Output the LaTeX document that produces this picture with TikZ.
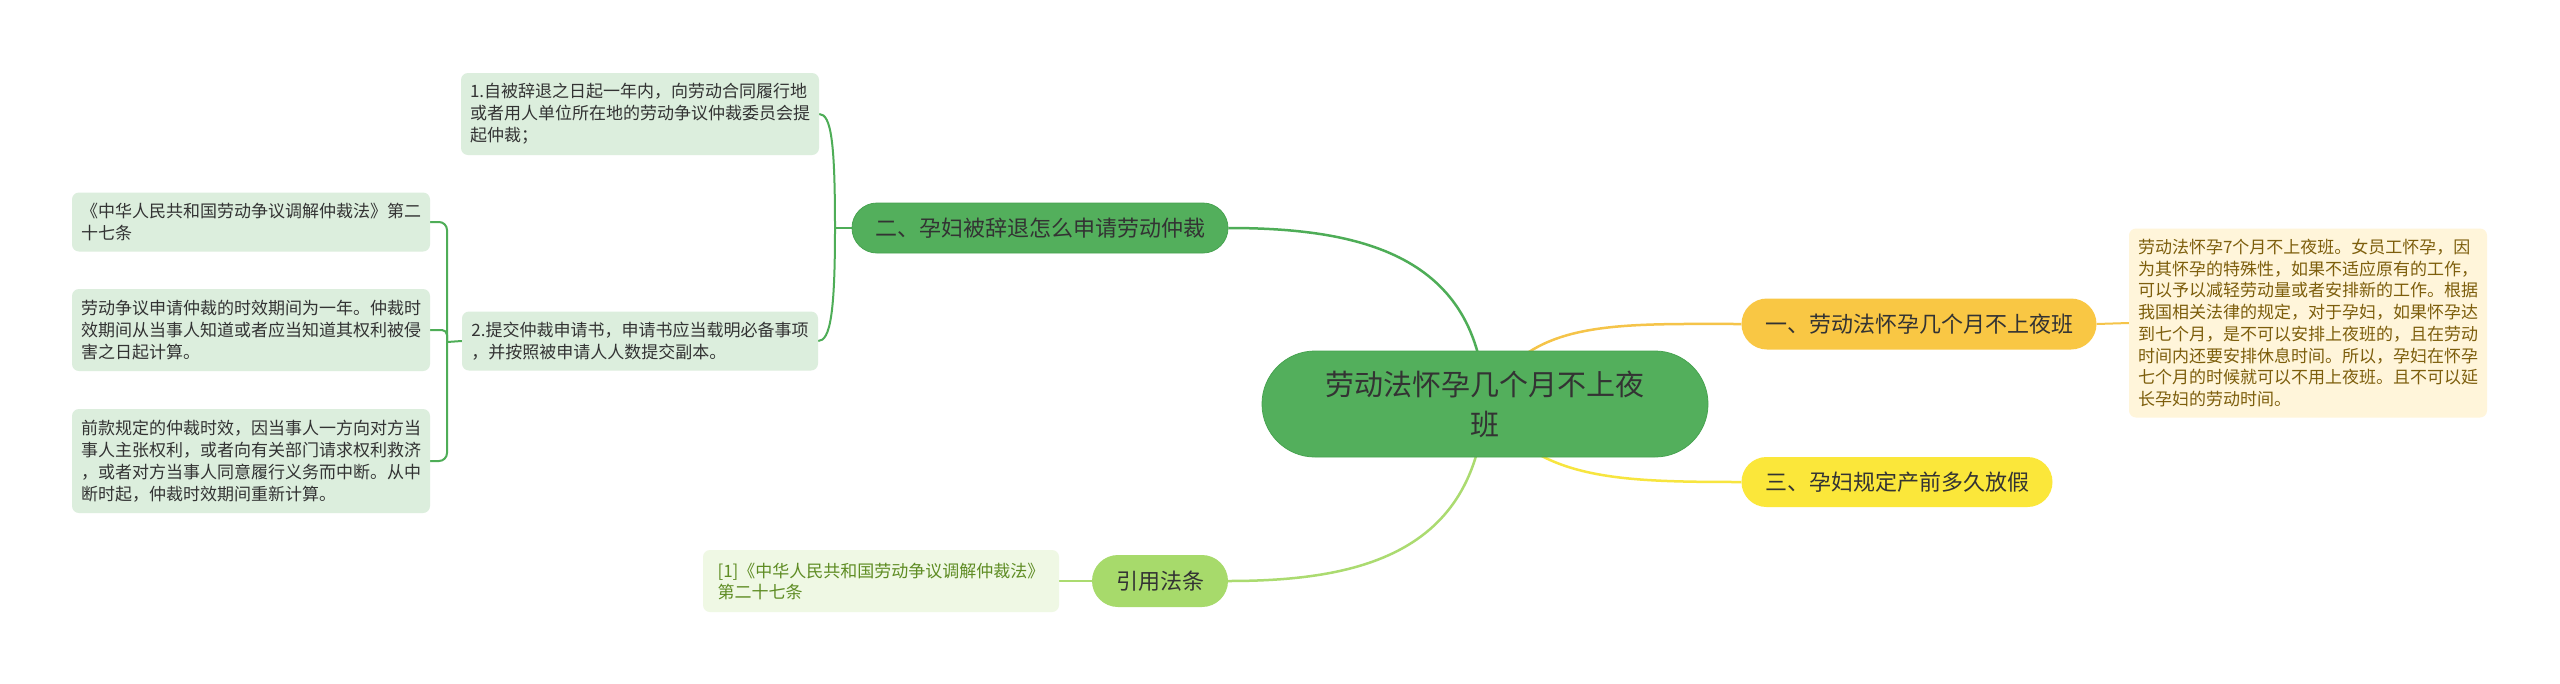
\documentclass[tikz,border=0pt]{standalone}
\usepackage{fontspec}
\setmainfont{Noto Sans CJK SC}
\usetikzlibrary{backgrounds,shapes.misc}
\pgfdeclarelayer{bottom}
\pgfsetlayers{bottom,background,main}
\definecolor{gfill}{HTML}{53AF5C}
\definecolor{gdraw}{HTML}{47A350}
\definecolor{gline}{HTML}{4EAD57}
\definecolor{lgbox}{HTML}{DCEEDD}
\definecolor{txt}{HTML}{333333}
\definecolor{ofill}{HTML}{F9C744}
\definecolor{oline}{HTML}{F5C449}
\definecolor{cream}{HTML}{FFF5DA}
\definecolor{brown}{HTML}{7D5E0C}
\definecolor{yfill}{HTML}{FBE73A}
\definecolor{yline}{HTML}{F7E53F}
\definecolor{lfill}{HTML}{A7DA6B}
\definecolor{lline}{HTML}{ABDB70}
\definecolor{lbox}{HTML}{EFF8E4}
\definecolor{ltxt}{HTML}{5E8C23}
\begin{document}
\begin{tikzpicture}[x=1pt,y=-1pt,
  tbox/.style={rectangle, rounded corners=7, inner xsep=9, inner ysep=0, align=left,
    font=\fontsize{17}{22}\selectfont},
  gbox/.style={tbox, fill=lgbox, text=txt},
  pill/.style={rounded rectangle, inner sep=0, align=center, text=txt},
  brl/.style={line width=2.5pt},
  sub/.style={line width=2pt}]
\useasboundingbox (0,0) rectangle (2560,683);
\begin{pgfonlayer}{bottom}
\fill[white] (0,0) rectangle (2560,683);
\end{pgfonlayer}

% central
\node[pill, fill=gfill, draw=gdraw, line width=0.8pt, minimum width=446, minimum height=106,
  font=\fontsize{29}{40}\selectfont] (c) at (1485,404) {劳动法怀孕几个月不上夜\\班};

% main branches
\node[pill, fill=ofill, minimum width=355, minimum height=51, font=\fontsize{22}{26}\selectfont]
  (n1) at (1919,324) {一、劳动法怀孕几个月不上夜班};
\node[pill, fill=gfill, draw=gdraw, line width=0.8pt, minimum width=376, minimum height=50, font=\fontsize{22}{26}\selectfont]
  (n2) at (1040,228) {二、孕妇被辞退怎么申请劳动仲裁};
\node[pill, fill=yfill, minimum width=311, minimum height=50, font=\fontsize{22}{26}\selectfont]
  (n3) at (1897,482) {三、孕妇规定产前多久放假};
\node[pill, fill=lfill, minimum width=136, minimum height=52, font=\fontsize{22}{26}\selectfont]
  (ny) at (1160,581) {引用法条};

% right text box
\node[tbox, fill=cream, text=brown, minimum width=357, minimum height=189,
  font=\fontsize{17}{21.7}\selectfont] (rb) at (2308,323)
  {劳动法怀孕7个月不上夜班。女员工怀孕，因\\为其怀孕的特殊性，如果不适应原有的工作，\\可以予以减轻劳动量或者安排新的工作。根据\\我国相关法律的规定，对于孕妇，如果怀孕达\\到七个月，是不可以安排上夜班的，且在劳动\\时间内还要安排休息时间。所以，孕妇在怀孕\\七个月的时候就可以不用上夜班。且不可以延\\长孕妇的劳动时间。};

% 二 branch boxes
\node[gbox, minimum width=356, minimum height=82] (b1) at (640,114)
  {1.自被辞退之日起一年内，向劳动合同履行地\\或者用人单位所在地的劳动争议仲裁委员会提\\起仲裁；};
\node[gbox, minimum width=356, minimum height=59] (b2) at (640,341)
  {2.提交仲裁申请书，申请书应当载明必备事项\\，并按照被申请人人数提交副本。};
\node[gbox, minimum width=356, minimum height=59] (ba) at (251,222)
  {《中华人民共和国劳动争议调解仲裁法》第二\\十七条};
\node[gbox, minimum width=356, minimum height=82] (bb) at (251,330)
  {劳动争议申请仲裁的时效期间为一年。仲裁时\\效期间从当事人知道或者应当知道其权利被侵\\害之日起计算。};
\node[gbox, minimum width=356, minimum height=104] (bc) at (251,461)
  {前款规定的仲裁时效，因当事人一方向对方当\\事人主张权利，或者向有关部门请求权利救济\\，或者对方当事人同意履行义务而中断。从中\\断时起，仲裁时效期间重新计算。};

% 引用 box
\node[tbox, fill=lbox, text=ltxt, minimum width=356, minimum height=62,
  font=\fontsize{17}{21}\selectfont] (yb) at (881,581)
  {[1]《中华人民共和国劳动争议调解仲裁法》\\第二十七条};

\coordinate (j2) at (835,228);
\coordinate (jl) at (447,342);

\begin{scope}[on background layer]
  \draw[brl, gline] (c.center) .. controls +(-5,-150) and +(130,0) .. (n2.east);
  \draw[brl, oline] (c.center) .. controls +(40,-85) and +(-130,0) .. (n1.west);
  \draw[brl, yline] (c.center) .. controls +(50,75) and +(-130,0) .. (n3.west);
  \draw[brl, lline] (c.center) .. controls +(-10,150) and +(130,0) .. (ny.east);
  \draw[sub, oline] (n1.east) -- (rb.west);
  \draw[sub, lline] (ny.west) -- (yb.east);
  \draw[sub, gline] (n2.west) -- (j2);
  \draw[sub, gline] (j2) .. controls +(0,-85) and +(12,0) .. (b1.east);
  \draw[sub, gline] (j2) .. controls +(0,85) and +(12,0) .. (b2.east);
  \draw[sub, gline] (b2.west) -- (jl);
  \draw[sub, gline, rounded corners=8] (ba.east) -| (jl);
  \draw[sub, gline, rounded corners=8] (bc.east) -| (jl);
  \draw[sub, gline, rounded corners=5] (bb.east) -| (jl);
\end{scope}
\end{tikzpicture}
\end{document}
